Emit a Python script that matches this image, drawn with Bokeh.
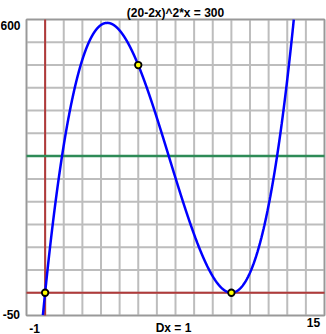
import numpy as np
from bokeh.plotting import figure
from bokeh.core.properties import value
from bokeh.embed import file_html
from bokeh.resources import INLINE

# Function shown in the title: (a - b*x)^2 * x
coef_a = 20
coef_b = 2
target = 300
x_min, x_max = -1, 15
y_min, y_max = -50, 600
dx = 1
dy = 50
point_x = [0, 5, 10]
point_y = [0, 500, 0]
title_text = "(20-2x)^2*x = 300"
foot_text = "Dx = 1"

# layout: graph box occupies pixels 26..324 horizontally, 19..315 vertically
W, H = 326, 334
box_l, box_r, box_t, box_b = 26, 324, 19, 315
ppx = (box_r - box_l) / (x_max - x_min)
ppy = (box_b - box_t) / (y_max - y_min)
xr = (x_min - box_l / ppx, x_max + (W - box_r) / ppx)
yr = (y_min - (H - box_b) / ppy, y_max + box_t / ppy)

p = figure(width=W, height=H, x_range=xr, y_range=yr,
           x_axis_type=None, y_axis_type=None, output_backend="svg",
           toolbar_location=None, min_border=0)
p.outline_line_color = None
p.grid.visible = False
p.background_fill_color = "white"
p.border_fill_color = "white"

gxs = np.arange(x_min, x_max + dx, dx)
gys = np.arange(y_min, y_max + dy, dy)
p.segment(x0=gxs, y0=[y_min] * len(gxs), x1=gxs, y1=[y_max] * len(gxs),
          line_color="#bdbdbd", line_width=2)
p.segment(x0=[x_min] * len(gys), y0=gys, x1=[x_max] * len(gys), y1=gys,
          line_color="#bdbdbd", line_width=2)
p.quad(left=[x_min], right=[x_max], bottom=[y_min], top=[y_max],
       fill_color=None, line_color="#999999", line_width=1.5)

p.segment(x0=[0], y0=[y_min], x1=[0], y1=[y_max], line_color="#b03a3a", line_width=2)
p.segment(x0=[x_min], y0=[0], x1=[x_max], y1=[0], line_color="#b03a3a", line_width=2)
p.segment(x0=[x_min], y0=[target], x1=[x_max], y1=[target], line_color="#2e8b57", line_width=2.5)

xs = np.linspace(x_min, x_max, 6000)
ys = (coef_a - coef_b * xs) ** 2 * xs
ys = np.where((ys >= y_min) & (ys <= y_max), ys, np.nan)
p.line(xs, ys, line_color="#0000ff", line_width=2.5)

p.scatter(point_x, point_y, size=6.5, fill_color="#ffff00", line_color="black", line_width=1.8)

font = value("Liberation Sans")
def lab(x, y, text, align, xo, yo):
    p.text(x=[x], y=[y], text=[text], text_align=align, text_baseline="middle",
           x_offset=xo, y_offset=yo, text_font=font, text_font_size="12px",
           text_font_style="bold", text_color="black")

lab((x_min + x_max) / 2, y_max, title_text, "center", 0, -7)
lab(x_min, y_max, str(y_max), "right", -6, 5.5)
lab(x_min, y_min, str(y_min), "right", -6.5, -1.5)
lab(x_min, y_min, str(x_min), "center", 8, 12.5)
lab(x_max, y_min, str(x_max), "center", -11, 6.5)
lab((x_min + x_max) / 2, y_min, foot_text, "center", -2, 12.5)

open("out.html", "w").write(file_html(p, INLINE))
